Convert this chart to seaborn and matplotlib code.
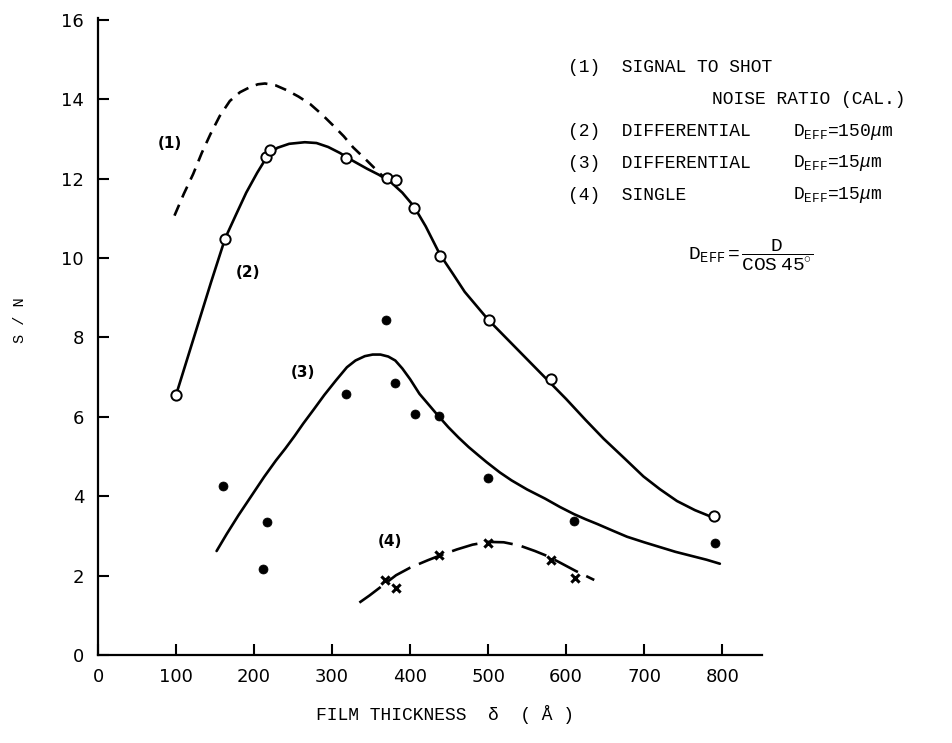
import numpy as np
import pandas as pd
import matplotlib
matplotlib.use("Agg")
import matplotlib.pyplot as plt
import seaborn as sns

# ---- data ----
# (1) calculated signal-to-shot-noise ratio (dashed curve)
c1_x = [98, 110, 122, 133, 144, 156, 169, 182, 195, 205, 214, 228, 242, 257, 272, 287, 302,
        315, 327, 345, 362, 370]
c1_y = [11.07, 11.62, 12.12, 12.65, 13.12, 13.58, 13.96, 14.18, 14.31, 14.38, 14.40, 14.35,
        14.23, 14.07, 13.88, 13.62, 13.33, 13.07, 12.79, 12.45, 12.12, 11.97]

# (2) differential D_EFF=150um : drawn curve + open-circle points
c2_x = [100, 115, 130, 145, 163, 177, 190, 204, 218, 230, 245, 265, 280, 295, 310, 325, 345,
        360, 375, 390, 405, 420, 438, 455, 470, 485, 500, 520, 540, 560, 580, 600, 625, 648,
        675, 699, 720, 742, 765, 790]
c2_y = [6.55, 7.5, 8.45, 9.4, 10.5, 11.1, 11.65, 12.15, 12.6, 12.78, 12.88, 12.92, 12.9, 12.8,
        12.65, 12.47, 12.25, 12.1, 11.92, 11.65, 11.3, 10.8, 10.1, 9.6, 9.15, 8.8, 8.45, 8.05,
        7.65, 7.25, 6.85, 6.45, 5.92, 5.45, 4.95, 4.5, 4.18, 3.88, 3.65, 3.45]
p2_x = [100, 163, 215, 220, 318, 370, 382, 405, 438, 501, 580, 790]
p2_y = [6.55, 10.48, 12.54, 12.72, 12.52, 12.01, 11.97, 11.26, 10.06, 8.45, 6.95, 3.5]

# (3) differential D_EFF=15um : drawn curve + filled points
c3_x = [152, 165, 180, 197, 213, 228, 240, 252, 263, 277, 290, 305, 319, 330, 342, 352, 362,
        372, 381, 390, 400, 412, 422, 435, 449, 462, 475, 487, 498, 515, 530, 550, 573, 592,
        610, 625, 640, 660, 678, 700, 720, 740, 760, 780, 797]
c3_y = [2.62, 3.05, 3.52, 4.02, 4.49, 4.9, 5.2, 5.52, 5.83, 6.2, 6.55, 6.92, 7.25, 7.42, 7.53,
        7.57, 7.57, 7.52, 7.42, 7.22, 6.95, 6.58, 6.35, 6.05, 5.74, 5.48, 5.24, 5.04, 4.86,
        4.6, 4.4, 4.17, 3.94, 3.73, 3.55, 3.42, 3.3, 3.13, 2.98, 2.84, 2.72, 2.6, 2.5, 2.4, 2.3]
p3_x = [160, 211, 216, 318, 369, 381, 406, 437, 500, 610, 791]
p3_y = [4.27, 2.16, 3.35, 6.57, 8.44, 6.85, 6.06, 6.01, 4.46, 3.38, 2.83]

# (4) single D_EFF=15um : dashed curve + cross points
c4_x = [335, 348, 360, 372, 382, 400, 423, 440, 460, 480, 500, 520, 540, 560, 575, 590, 612, 636]
c4_y = [1.32, 1.5, 1.68, 1.86, 2.01, 2.2, 2.39, 2.52, 2.66, 2.78, 2.85, 2.84, 2.76, 2.62, 2.5,
        2.35, 2.12, 1.89]
p4_x = [368, 382, 437, 500, 581, 611]
p4_y = [1.90, 1.70, 2.53, 2.83, 2.39, 1.93]

x_ticks = [0, 100, 200, 300, 400, 500, 600, 700, 800]
y_ticks = [0, 2, 4, 6, 8, 10, 12, 14, 16]

# ---- style ----
sns.set_theme(style="ticks")
plt.rcParams["font.family"] = ["DejaVu Sans"]
plt.rcParams["mathtext.fontset"] = "custom"
plt.rcParams["mathtext.rm"] = "Liberation Mono"
plt.rcParams["mathtext.it"] = "Liberation Mono:italic"
plt.rcParams["mathtext.bf"] = "Liberation Mono:bold"

MONO = ["Liberation Mono", "DejaVu Sans Mono"]

fig = plt.figure(figsize=(9.52, 7.43), dpi=100)
fig.patch.set_facecolor("white")
ax = fig.add_axes([98 / 952, 1 - 655 / 743, (762 - 98) / 952, (655 - 18) / 743])
ax.set_facecolor("white")

lw = 1.9
df1 = pd.DataFrame({"x": c1_x, "y": c1_y})
sns.lineplot(data=df1, x="x", y="y", ax=ax, color="black", lw=lw, sort=False,
             estimator=None, linestyle=(0, (4.5, 3)))
df2 = pd.DataFrame({"x": c2_x, "y": c2_y})
sns.lineplot(data=df2, x="x", y="y", ax=ax, color="black", lw=lw, sort=False, estimator=None)
df3 = pd.DataFrame({"x": c3_x, "y": c3_y})
sns.lineplot(data=df3, x="x", y="y", ax=ax, color="black", lw=lw, sort=False, estimator=None)
df4 = pd.DataFrame({"x": c4_x, "y": c4_y})
sns.lineplot(data=df4, x="x", y="y", ax=ax, color="black", lw=lw, sort=False,
             estimator=None, linestyle=(0, (10, 3.5)))
for ln in ax.lines:
    ln.set_solid_capstyle("round")
    ln.set_solid_joinstyle("round")

sns.scatterplot(x=p2_x, y=p2_y, ax=ax, marker="o", s=55, facecolor="white",
                edgecolor="black", linewidth=1.4, zorder=5)
sns.scatterplot(x=p3_x, y=p3_y, ax=ax, marker="o", s=42, color="black",
                edgecolor="black", linewidth=0.5, zorder=5)
sns.scatterplot(x=p4_x, y=p4_y, ax=ax, marker="x", s=35, color="black",
                linewidth=2.2, zorder=5)

ax.set_xlim(0, 851)
ax.set_ylim(0, 16.05)
ax.set_xticks(x_ticks)
ax.set_yticks(y_ticks)
ax.set_xticklabels([str(v) for v in x_ticks])
ax.set_yticklabels([str(v) for v in y_ticks])
ax.set_xlabel("")
ax.set_ylabel("")
for side in ["top", "right"]:
    ax.spines[side].set_visible(False)
for side in ["left", "bottom"]:
    ax.spines[side].set_linewidth(1.6)
    ax.spines[side].set_color("black")
ax.tick_params(axis="both", direction="in", length=8, width=1.5, colors="black",
               labelsize=13)
ax.tick_params(axis="x", pad=9)
ax.tick_params(axis="y", pad=10)

# curve labels
lab_kw = dict(fontsize=11, color="black", ha="center", va="center", fontweight="bold")
ax.text(92, 12.88, "(1)", **lab_kw)
ax.text(192, 9.63, "(2)", **lab_kw)
ax.text(263, 7.12, "(3)", **lab_kw)
ax.text(374, 2.87, "(4)", **lab_kw)

# legend text block (typewriter style)
def ft(xp, yp, s, size=13, **kw):
    fig.text(xp / 952, 1 - yp / 743, s, family=MONO, fontsize=size, color="black",
             va="center", ha="left", **kw)

ft(568, 68, "(1)  SIGNAL TO SHOT")
ft(712, 100, "NOISE RATIO (CAL.)")
ft(568, 132, "(2)  DIFFERENTIAL")
ft(793, 132, r"$\mathrm{D_{EFF}}$=150$\mu$m")
ft(568, 163, "(3)  DIFFERENTIAL")
ft(793, 163, r"$\mathrm{D_{EFF}}$=15$\mu$m")
ft(568, 195, "(4)  SINGLE")
ft(793, 195, r"$\mathrm{D_{EFF}}$=15$\mu$m")
ft(688, 255, r"$\mathrm{D_{EFF}}=\dfrac{\mathrm{D}}{\mathrm{COS\ 45^{\circ}}}$", size=14)

# axis titles
fig.text(445 / 952, 1 - 715 / 743, "FILM THICKNESS  δ  ( Å )", family=MONO, fontsize=13,
         color="black", ha="center", va="center")
fig.text(20 / 952, 1 - 320 / 743, "S / N", family=MONO, fontsize=11, color="black",
         ha="center", va="center", rotation=90)

fig.savefig("out.png", dpi=100, facecolor="white")
